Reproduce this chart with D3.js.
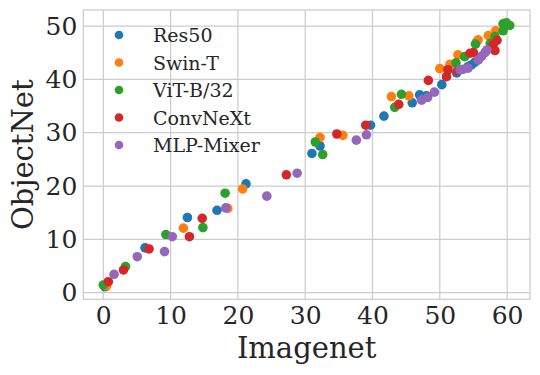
<!DOCTYPE html>
<html>
<head>
<meta charset="utf-8">
<title>ObjectNet vs Imagenet</title>
<style>
  body { margin: 0; background: #fff; }
  text { font-family: "DejaVu Serif", serif; fill: #262626; }
</style>
</head>
<body>
<script src="https://cdn.jsdelivr.net/npm/d3@7"></script>
<script>
// series: [imagenet, objectnet]
var res50 = [[0.25,1.1],[6.2,8.4],[12.5,14.1],[16.9,15.45],[21.2,20.4],[31.0,26.1],[32.2,27.5],
  [39.7,31.4],[41.7,33.1],[45.9,35.6],[47.0,37.1],[48.0,36.9],[50.3,39.0],[52.5,41.2],
  [54.2,42.4],[54.7,42.7],[55.2,43.2]];
var swinT = [[0.5,1.3],[11.9,12.1],[18.5,15.8],[20.7,19.45],[32.2,29.1],[35.6,29.5],[42.8,36.75],
  [45.4,36.9],[50.0,42.0],[51.5,42.8],[52.7,44.6],[55.5,47.1],[55.7,47.4],[57.2,48.2],[58.3,49.1]];
var vitB32 = [[0,1.45],[3.3,4.9],[9.3,10.9],[14.8,12.2],[18.1,18.65],[31.5,28.25],[32.6,25.9],
  [43.3,34.75],[44.3,37.2],[52.4,43.1],[53.7,44.25],[55.3,46.6],[57.5,46.75],[58.2,48.0],
  [59.4,49.1],[59.4,50.4],[59.9,50.6],[60.4,50.1]];
var convnext = [[0.75,2.06],[3.0,4.26],[6.8,8.2],[12.8,10.5],[14.7,13.95],[27.2,22.1],[34.7,29.75],
  [39.0,31.4],[43.9,35.3],[48.3,39.8],[51.0,40.5],[51.2,41.8],[52.6,41.6],[54.5,44.9],
  [55.0,45.0],[57.9,46.4],[58.2,45.4],[58.5,47.3]];
var mlpMixer = [[1.6,3.45],[5.05,6.75],[9.1,7.7],[10.25,10.5],[18.2,15.9],[24.3,18.1],[28.8,22.4],
  [37.6,28.6],[39.1,29.6],[47.3,36.1],[48.2,36.6],[49.2,37.6],[53.0,41.8],[53.5,41.9],
  [54.2,42.1],[55.7,43.6],[56.2,44.3],[56.7,45.0],[57.0,45.5]];

var names = ["Res50", "Swin-T", "ViT-B/32", "ConvNeXt", "MLP-Mixer"];
var colors = ["#1f77b4", "#ff7f0e", "#2ca02c", "#d62728", "#9467bd"];
var xTicks = [0, 10, 20, 30, 40, 50, 60];
var yTicks = [0, 10, 20, 30, 40, 50];

var series = [res50, swinT, vitB32, convnext, mlpMixer];

var width = 540, height = 375;
var pLeft = 83.3, pRight = 530, pTop = 10, pBottom = 299.3;

var x = d3.scaleLinear().domain([-2.97, 63.4]).range([pLeft, pRight]);
var y = d3.scaleLinear().domain([-1.24, 53.0]).range([pBottom, pTop]);

var svg = d3.select("body").append("svg")
    .attr("width", width)
    .attr("height", height);

// grid
svg.append("g").selectAll("line")
    .data(xTicks).enter().append("line")
    .attr("x1", function(d){ return x(d); })
    .attr("x2", function(d){ return x(d); })
    .attr("y1", pTop).attr("y2", pBottom)
    .style("stroke", "#cccccc").style("stroke-width", 1.25);

svg.append("g").selectAll("line")
    .data(yTicks).enter().append("line")
    .attr("y1", function(d){ return y(d); })
    .attr("y2", function(d){ return y(d); })
    .attr("x1", pLeft).attr("x2", pRight)
    .style("stroke", "#cccccc").style("stroke-width", 1.25);

// frame
svg.append("rect")
    .attr("x", pLeft).attr("y", pTop)
    .attr("width", pRight - pLeft).attr("height", pBottom - pTop)
    .style("fill", "none").style("stroke", "#cccccc").style("stroke-width", 1.25);

// axes (labels only, seaborn whitegrid has no tick marks)
var xAxis = svg.append("g")
    .attr("transform", "translate(0," + pBottom + ")")
    .call(d3.axisBottom(x).tickValues(xTicks).tickSize(0).tickPadding(7));
var yAxis = svg.append("g")
    .attr("transform", "translate(" + pLeft + ",0)")
    .call(d3.axisLeft(y).tickValues(yTicks).tickSize(0).tickPadding(6));

[xAxis, yAxis].forEach(function(a) {
  a.select(".domain").remove();
  a.selectAll("text").style("font-size", "25px").style("font-family", "DejaVu Serif").style("fill", "#262626");
});

svg.append("text")
    .attr("x", (pLeft + pRight) / 2)
    .attr("y", 358)
    .attr("text-anchor", "middle")
    .style("font-size", "29px")
    .text("Imagenet");

svg.append("text")
    .attr("transform", "translate(33," + ((pTop + pBottom) / 2) + ") rotate(-90)")
    .attr("text-anchor", "middle")
    .style("font-size", "29px")
    .text("ObjectNet");

// points
series.forEach(function(s, i) {
  svg.append("g").selectAll("circle")
      .data(s).enter().append("circle")
      .attr("cx", function(d){ return x(d[0]); })
      .attr("cy", function(d){ return y(d[1]); })
      .attr("r", 4.8)
      .style("fill", colors[i]);
});

// legend
var legend = svg.append("g").selectAll("g")
    .data(names).enter().append("g")
    .attr("transform", function(d, i){ return "translate(119," + (35 + i * 27.5) + ")"; });

legend.append("circle")
    .attr("r", 4.3)
    .style("fill", function(d, i){ return colors[i]; });

legend.append("text")
    .attr("x", 34)
    .attr("y", 7)
    .style("font-size", "19px")
    .text(function(d){ return d; });
</script>
</body>
</html>
